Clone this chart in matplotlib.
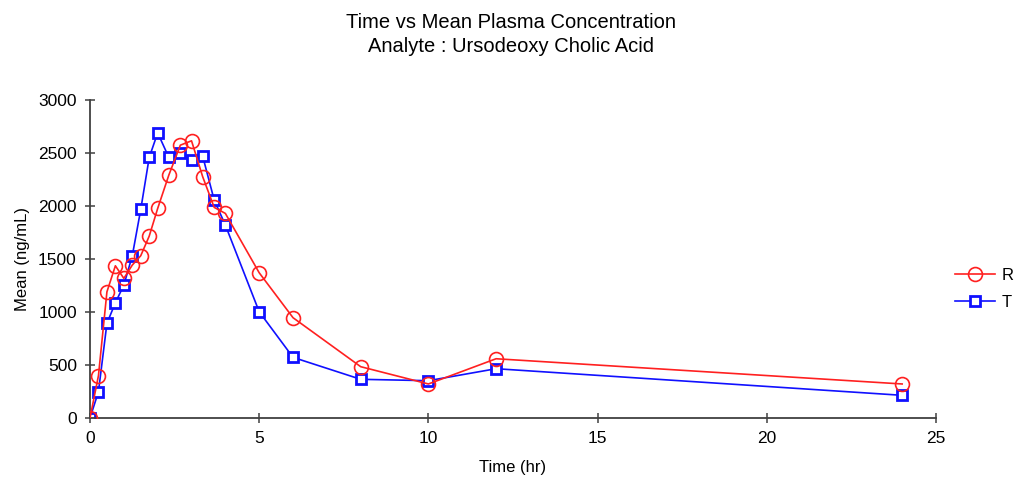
import matplotlib
matplotlib.use("Agg")
import matplotlib.pyplot as plt

plt.rcParams['font.family'] = ['Liberation Sans', 'DejaVu Sans']

time_hr = [0, 0.25, 0.5, 0.75, 1, 1.25, 1.5, 1.75, 2, 2.33, 2.67, 3, 3.33, 3.67, 4, 5, 6, 8, 10, 12, 24]
mean_R = [0, 400, 1190, 1436, 1317, 1443, 1531, 1716, 1977, 2292, 2574, 2615, 2276, 1987, 1930,
          1370, 946, 484, 321, 559, 321]
mean_T = [0, 248, 893, 1087, 1254, 1531, 1968, 2458, 2690, 2458, 2496, 2433, 2470, 2056, 1820,
          1002, 572, 365, 352, 465, 214]

fig = plt.figure(figsize=(10.22, 4.79), dpi=100)
ax = fig.add_axes([90 / 1022, 1 - 418 / 479, (936 - 90) / 1022, (418 - 100) / 479])

ax.plot(time_hr, mean_R, color="#ff2020", lw=1.2, marker="o", markersize=10,
        markerfacecolor="none", markeredgecolor="#ff2020", markeredgewidth=1.2, label="R", zorder=3)
ax.plot(time_hr, mean_T, color="#1010ff", lw=1.2, marker="s", markersize=7.5,
        markerfacecolor="white", markeredgecolor="#1010ff", markeredgewidth=2, label="T", zorder=2)

ax.set_xlim(0, 25)
ax.set_ylim(0, 3000)
ax.set_xticks([0, 5, 10, 15, 20, 25])
ax.set_yticks([0, 500, 1000, 1500, 2000, 2500, 3000])
ax.spines['top'].set_visible(False)
ax.spines['right'].set_visible(False)
for s in ['left', 'bottom']:
    ax.spines[s].set_color("#404040")
    ax.spines[s].set_linewidth(1.3)
ax.tick_params(direction='inout', length=7, width=1.1, color="#404040", labelsize=12.5)
ax.tick_params(axis='x', pad=6)
ax.tick_params(axis='y', pad=6)
ax.set_xlabel("Time (hr)", fontsize=12, labelpad=10)
ax.set_ylabel("Mean (ng/mL)", fontsize=12, labelpad=6)

fig.text(0.5, 1 - 22 / 479, "Time vs Mean Plasma Concentration", ha='center', va='center', fontsize=14.5)
fig.text(0.5, 1 - 47 / 479, "Analyte : Ursodeoxy Cholic Acid", ha='center', va='center', fontsize=14.5)

ax.legend(loc='center left', bbox_to_anchor=(940 / 1022, 1 - 289 / 479), bbox_transform=fig.transFigure,
          frameon=False, fontsize=12, handlelength=2.4, handletextpad=0.4, labelspacing=0.75)

fig.savefig("out.png", dpi=100)
